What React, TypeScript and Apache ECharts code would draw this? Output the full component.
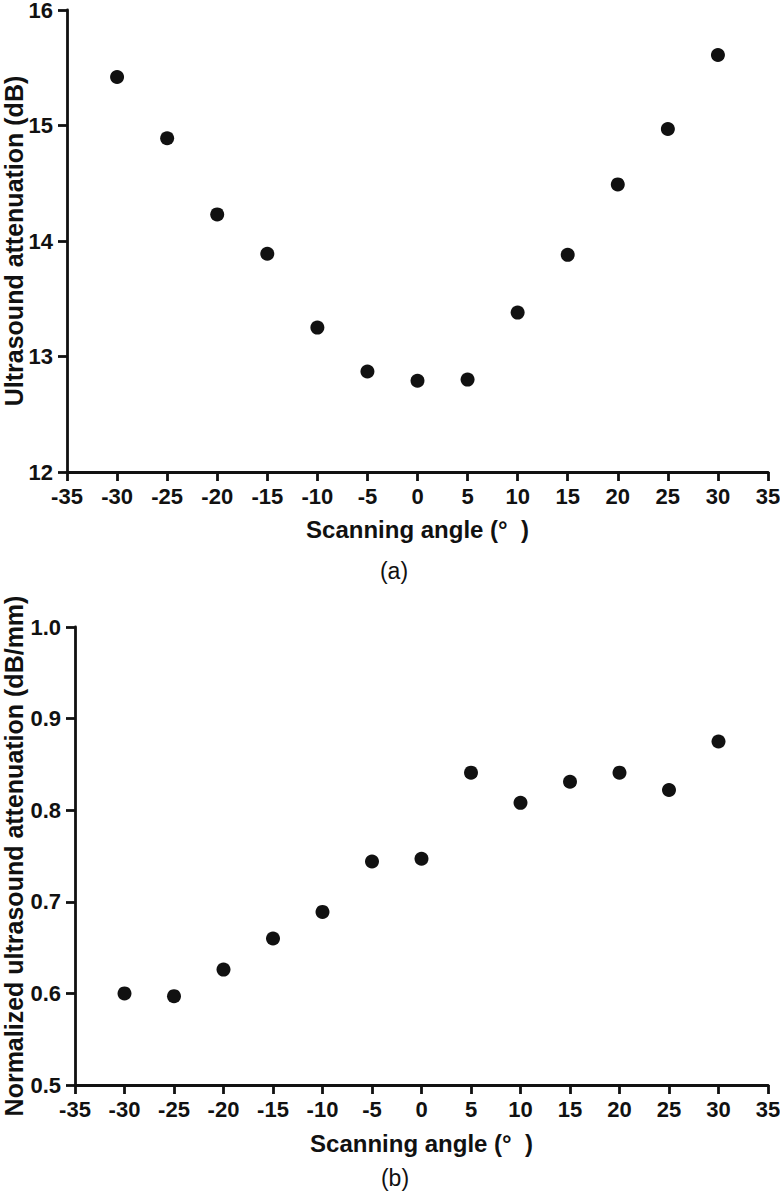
import React, { useEffect, useRef } from "react";
import * as echarts from "echarts";

const angles = [-30, -25, -20, -15, -10, -5, 0, 5, 10, 15, 20, 25, 30];
const attenuationDb = [15.42, 14.89, 14.23, 13.89, 13.25, 12.87, 12.79, 12.8, 13.38, 13.88, 14.49, 14.97, 15.61];
const normalizedAttenuation = [0.6, 0.597, 0.626, 0.66, 0.689, 0.744, 0.747, 0.841, 0.808, 0.831, 0.841, 0.822, 0.875];

const xTitle = "Scanning angle (°  )";
const yTitleA = "Ultrasound attenuation (dB)";
const yTitleB = "Normalized ultrasound attenuation (dB/mm)";
const panelLabels = ["(a)", "(b)"];

const FONT = "'Liberation Sans', Arial, Helvetica, sans-serif";
const INK = "#111111";

export default function App() {
  const ref = useRef<HTMLDivElement>(null);
  useEffect(() => {
    if (!ref.current) return;
    const chart = echarts.init(ref.current, null, { renderer: "svg" });
    const axisLine = { show: true, onZero: false, lineStyle: { color: INK, width: 2.8 } };
    const axisTick = { show: true, length: 9, lineStyle: { color: INK, width: 2.8 } };
    const labelStyle = { color: INK, fontFamily: FONT, fontWeight: "bold" as const, fontSize: 22 };
    const nameStyle = { color: INK, fontFamily: FONT, fontWeight: "bold" as const, fontSize: 24 };
    const xAxisBase = (gridIndex: number, gap: number) => ({
      type: "value" as const,
      gridIndex,
      min: -35,
      max: 35,
      interval: 5,
      axisLine,
      axisTick,
      splitLine: { show: false },
      axisLabel: { ...labelStyle, margin: 13 },
      name: xTitle,
      nameLocation: "middle" as const,
      nameGap: gap,
      nameMoveOverlap: false,
      nameTextStyle: nameStyle,
    });
    chart.setOption({
      animation: false,
      backgroundColor: "#ffffff",
      grid: [
        { left: 67, right: 12, top: 10, height: 462, outerBoundsMode: "none", containLabel: false },
        { left: 75, right: 12, top: 627, height: 458, outerBoundsMode: "none", containLabel: false },
      ],
      xAxis: [xAxisBase(0, 45), xAxisBase(1, 46)],
      yAxis: [
        {
          type: "value",
          gridIndex: 0,
          min: 12,
          max: 16,
          interval: 1,
          axisLine,
          axisTick,
          splitLine: { show: false },
          axisLabel: { ...labelStyle, margin: 14, lineHeight: 16 },
          name: yTitleA,
          nameLocation: "middle",
          nameGap: 41,
          nameMoveOverlap: false,
          nameTextStyle: { ...nameStyle, fontSize: 25 },
        },
        {
          type: "value",
          gridIndex: 1,
          min: 0.5,
          max: 1.0,
          interval: 0.1,
          axisLine,
          axisTick,
          splitLine: { show: false },
          axisLabel: { ...labelStyle, margin: 14, formatter: (v: number) => v.toFixed(1) },
          name: yTitleB,
          nameLocation: "middle",
          nameGap: 49,
          nameMoveOverlap: false,
          nameTextStyle: { ...nameStyle, fontSize: 25 },
        },
      ],
      series: [
        {
          type: "scatter",
          xAxisIndex: 0,
          yAxisIndex: 0,
          symbol: "circle",
          symbolSize: 14,
          itemStyle: { color: INK, opacity: 1 },
          data: angles.map((a, i) => [a, attenuationDb[i]]),
        },
        {
          type: "scatter",
          xAxisIndex: 1,
          yAxisIndex: 1,
          symbol: "circle",
          symbolSize: 14,
          itemStyle: { color: INK, opacity: 1 },
          data: angles.map((a, i) => [a, normalizedAttenuation[i]]),
        },
      ],
      graphic: [
        {
          type: "text",
          x: 394,
          y: 571,
          style: { text: panelLabels[0], fill: INK, font: `normal 23px ${FONT}`, textAlign: "center", textVerticalAlign: "middle" },
        },
        {
          type: "text",
          x: 395,
          y: 1178,
          style: { text: panelLabels[1], fill: INK, font: `normal 23px ${FONT}`, textAlign: "center", textVerticalAlign: "middle" },
        },
      ],
    });
    return () => chart.dispose();
  }, []);
  return (
    <div
      ref={ref}
      style={{ position: "absolute", left: 0, top: 0, width: 780, height: 1194, background: "#fff" }}
    />
  );
}
